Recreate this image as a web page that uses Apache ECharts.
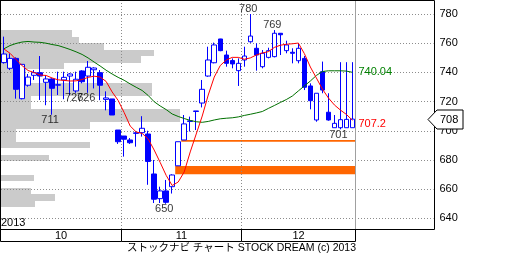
<!DOCTYPE html>
<html><head><meta charset="utf-8">
<script src="https://cdn.jsdelivr.net/npm/echarts@6/dist/echarts.min.js"></script>
<style>html,body{margin:0;padding:0;background:#fff}#c{width:512px;height:256px}</style>
</head><body><div id="c"></div>
<script>
// ---------------- data ----------------
const dates = [
 '2013-10-03','2013-10-04','2013-10-07','2013-10-08','2013-10-09','2013-10-10','2013-10-11','2013-10-15','2013-10-16','2013-10-17',
 '2013-10-18','2013-10-21','2013-10-22','2013-10-23','2013-10-24','2013-10-25','2013-10-28','2013-10-29','2013-10-30','2013-10-31',
 '2013-11-01','2013-11-05','2013-11-06','2013-11-07','2013-11-08','2013-11-11','2013-11-12','2013-11-13','2013-11-14','2013-11-15',
 '2013-11-18','2013-11-19','2013-11-20','2013-11-21','2013-11-22','2013-11-25','2013-11-26','2013-11-27','2013-11-28','2013-11-29',
 '2013-12-02','2013-12-03','2013-12-04','2013-12-05','2013-12-06','2013-12-09','2013-12-10','2013-12-11','2013-12-12','2013-12-13',
 '2013-12-16','2013-12-17','2013-12-18','2013-12-19','2013-12-20','2013-12-24','2013-12-25','2013-12-26','2013-12-27'
];
const openP = [746.7,742.8,749.6,722.0,731.2,738.0,739.8,733.2,735.5,731.2,
 734.8,737.5,727.3,741.0,737.5,741.8,739.8,721.5,721.8,700.5,
 696.4,693.7,698.2,698.7,697.8,670.4,653.5,658.8,661.7,676.0,
 693.7,706.4,713.2,719.0,737.5,746.6,762.9,751.9,748.1,741.2,
 748.5,761.0,756.5,743.9,750.3,750.8,766.8,754.9,753.8,748.0,
 749.6,730.7,707.4,740.5,712.7,702.1,702.1,702.1,702.1];
const closeP = [752.6,749.6,728.4,745.5,736.8,739.8,737.5,735.5,729.1,731.6,
 736.6,738.9,735.3,733.6,743.5,743.0,731.2,722.5,710.8,692.5,
 694.2,691.8,698.6,701.7,679.0,653.1,658.8,651.0,669.7,692.5,
 704.7,706.8,713.6,728.4,748.5,758.8,754.9,746.2,745.8,746.2,
 751.2,764.9,751.9,753.1,754.9,766.8,765.8,758.8,753.1,756.5,
 729.8,720.6,725.7,727.9,707.4,705.1,707.6,707.8,708.0];
const lowP = [746.0,741.6,722.0,721.5,730.2,734.8,721.1,717.5,711.0,724.5,
 721.6,724.5,726.0,732.5,726.0,729.0,721.0,714.0,710.8,691.0,
 682.3,691.0,689.1,696.0,663.0,650.5,650.5,650.0,657.0,675.9,
 693.7,699.5,700.5,716.0,737.0,746.2,754.5,743.9,742.8,730.7,
 743.9,760.3,741.2,742.8,749.6,750.3,751.9,753.1,746.2,746.2,
 727.9,714.7,706.2,725.7,706.9,702.1,701.0,702.1,702.1];
const highP = [764.5,753.0,750.3,745.8,738.9,741.6,751.2,738.0,736.0,740.5,
 740.5,739.5,740.5,741.5,747.8,743.5,741.6,727.0,721.8,700.5,
 696.4,695.0,699.5,710.0,700.0,680.0,661.7,666.3,670.2,692.5,
 710.8,709.7,713.6,734.8,757.6,760.4,763.0,754.9,749.6,749.6,
 757.6,780.0,759.9,755.3,756.9,769.0,767.0,761.7,756.5,760.0,
 751.2,732.5,725.7,747.4,725.7,710.8,747.0,747.0,747.0];
const ma5 = [756.0,753.1,748.8,744.7,741.3,739.9,738.2,737.9,736.2,734.9,
 734.5,734.1,734.2,735.1,736.6,737.4,736.8,733.8,726.6,720.8,
 712.5,703.3,699.2,698.2,694.4,686.8,678.3,669.4,662.5,664.9,
 671.8,685.5,697.8,710.1,724.5,736.8,744.7,748.5,750.3,750.3,
 749.0,749.9,751.9,753.3,754.2,757.1,758.6,759.3,759.6,760.1,
 752.9,743.7,736.2,728.6,722.5,717.7,714.2,711.2,707.2];
const ma25 = [756.2,758.4,759.8,760.8,761.2,760.8,760.6,760.0,759.1,758.4,
 757.1,755.7,754.1,752.3,749.9,747.1,744.4,741.5,738.9,736.6,
 734.6,732.1,729.8,727.6,724.2,719.9,717.0,714.5,711.5,709.8,
 708.4,707.1,706.2,705.8,706.4,707.4,708.2,708.6,708.9,709.5,
 710.5,711.3,712.2,713.2,715.3,717.3,719.4,721.4,723.8,727.3,
 730.7,734.1,737.9,740.6,741.1,741.1,741.1,740.9,740.04];
// volume-by-price profile (price buckets, relative volume)
const profileLow  = [647.5,652,656.5,661,665.5,670,674.5,679,683.5,688,692.5,697,701.5,706,710.5,715,719.5,724,728.5,733,737.5,742,746.5,751,755.5,760,764.5];
const profileHigh = [652,656.5,661,665.5,670,674.5,679,683.5,688,692.5,697,701.5,706,710.5,715,719.5,724,728.5,733,737.5,742,746.5,751,755.5,760,764.5,769];
const profileVol  = [34,54,30,0,33,0,0,48,0,89,15,15,89,179,179,30,30,151,151,25,25,63,140,153,103,78,71];
// price gaps (windows): first index after gap, gap low, gap high
const gapStart = [29, 30];
const gapLow   = [670.2, 692.5];
const gapHigh  = [675.9, 693.7];
// annotated highs / lows
const markIdx  = [41, 45, 8, 12, 14, 27, 56];
const markSide = ['high','high','low','low','low','low','low'];
const caption = 'ストックナビ チャート STOCK DREAM (c) 2013';

// ---------------- layout ----------------
const FONT = '"Liberation Sans", Arial, "Noto Sans CJK JP", sans-serif';
const NSLOT = 72;
const cats = dates.concat(Array.from({length: NSLOT - dates.length}, (_, i) => '_' + i));
const GRID = {left: 1, top: 0, width: 432.5, height: 229};
const lastIdx = dates.length - 1;

// month segments from dates
const monthStart = [], monthEnd = [], monthLabel = [];
dates.forEach((d, i) => {
  const m = String(parseInt(d.slice(5, 7), 10));
  if (!monthLabel.length || monthLabel[monthLabel.length - 1] !== m) {
    monthLabel.push(m); monthStart.push(i); monthEnd.push(i);
  } else monthEnd[monthEnd.length - 1] = i;
});

const chart = echarts.init(document.getElementById('c'), null, {renderer: 'canvas', width: 512, height: 256});

function renderProfile(params, api) {
  const p0 = api.coord([0, api.value(1)]);
  const p1 = api.coord([api.value(2), api.value(0)]);
  return {type: 'rect', shape: {x: p0[0], y: Math.round(p0[1]), width: p1[0] - p0[0], height: Math.round(p1[1]) - Math.round(p0[1])},
    style: {fill: '#cbcbcb'}};
}
function renderGap(params, api) {
  const bw = api.size([1, 0])[0];
  const a = api.coord([api.value(0), api.value(2)]);
  const b = api.coord([lastIdx, api.value(1)]);
  const x0 = a[0] - bw / 2, x1 = b[0] + bw / 2;
  return {type: 'rect', shape: {x: x0, y: a[1], width: x1 - x0, height: Math.max(1.5, b[1] - a[1])},
    style: {fill: '#ff6600'}};
}
function renderMonth(params, api) {
  const cs = params.coordSys;
  const bw = api.size([1, 0])[0];
  const i = params.dataIndex;
  const x0 = api.coord([api.value(0), 700])[0] - bw / 2;
  const x1 = api.coord([api.value(1), 700])[0] + bw / 2;
  const top = cs.y, bot = Math.round(cs.y + cs.height) + 0.5, boxB = bot + 12;
  const xr = Math.round(x1) + 0.5;
  const xl = i === 0 ? Math.floor(cs.x) - 0.5 : Math.round(x0) + 0.5;
  const last = i === monthLabel.length - 1;
  const ch = [];
  ch.push({type: 'line', shape: {x1: xl, y1: boxB, x2: xr, y2: boxB}, style: {stroke: '#000', lineWidth: 1}});
  ch.push({type: 'line', shape: {x1: xr, y1: bot, x2: xr, y2: boxB}, style: {stroke: '#000', lineWidth: 1}});
  if (i === 0) {
    ch.push({type: 'line', shape: {x1: xl, y1: top, x2: xl, y2: boxB}, style: {stroke: '#000', lineWidth: 1}});
    ch.push({type: 'text', x: cs.x, y: bot - 7, style: {text: dates[0].slice(0, 4), align: 'left', verticalAlign: 'middle',
      fill: '#000', fontSize: 11, fontFamily: FONT}});
  }
  if (last) {
    ch.push({type: 'line', shape: {x1: xr, y1: top, x2: xr, y2: bot - 0.5}, style: {stroke: '#a0a0a0', lineWidth: 1}});
    ch.push({type: 'text', x: xr + 0.5, y: boxB + 7, style: {text: caption, align: 'right', verticalAlign: 'middle',
      fill: '#000', fontSize: 10.5, fontFamily: FONT}});
  } else {
    ch.push({type: 'line', shape: {x1: xr, y1: top, x2: xr, y2: bot - 0.5}, style: {stroke: '#8c8c8c', lineWidth: 1, lineDash: [1, 2]}});
  }
  ch.push({type: 'text', x: (xl + xr) / 2, y: (bot + boxB) / 2 + 0.5, style: {text: monthLabel[i], align: 'center', verticalAlign: 'middle',
    fill: '#000', fontSize: 11, fontFamily: FONT}});
  return {type: 'group', children: ch};
}

const option = {
  animation: false,
  backgroundColor: '#fff',
  grid: [{left: GRID.left, top: GRID.top, width: GRID.width, height: GRID.height, show: false}],
  xAxis: [
    {type: 'category', gridIndex: 0, data: cats, boundaryGap: true,
      axisLine: {show: false}, axisTick: {show: false}, axisLabel: {show: false}, splitLine: {show: false}},
    {type: 'value', gridIndex: 0, min: 0, max: GRID.width, show: false}
  ],
  yAxis: [{type: 'value', gridIndex: 0, position: 'right', min: 632.7, max: 789.6,
    minInterval: 20, maxInterval: 20, splitNumber: 8,
    axisLine: {show: false}, axisTick: {show: false},
    axisLabel: {margin: 6, color: '#000', fontSize: 11, fontFamily: FONT,
      formatter: v => (Math.abs(v / 20 - Math.round(v / 20)) < 1e-6 ? String(Math.round(v)) : '')},
    splitLine: {show: true, lineStyle: {color: '#8c8c8c', type: [1, 2], width: 1}}}],
  series: [
    {type: 'custom', name: 'profile', xAxisIndex: 1, yAxisIndex: 0, z: -1, silent: true,
      data: profileLow.map((v, i) => [v, profileHigh[i], profileVol[i]]),
      encode: {x: 2, y: [0, 1]}, renderItem: renderProfile},
    {type: 'custom', name: 'gaps', xAxisIndex: 0, yAxisIndex: 0, silent: true,
      data: gapStart.map((v, i) => [v, gapLow[i], gapHigh[i]]),
      encode: {x: 0, y: [1, 2]}, renderItem: renderGap},
    {type: 'candlestick', name: 'price', xAxisIndex: 0, yAxisIndex: 0, barWidth: 5,
      data: dates.map((d, i) => [openP[i], closeP[i], lowP[i], highP[i]]),
      itemStyle: {color: '#ffffff', color0: '#0000ff', borderColor: '#0000ff', borderColor0: '#0000ff', borderColorDoji: '#0000ff', borderWidth: 1}},
    {type: 'line', name: 'ma25', data: ma25, symbol: 'none', lineStyle: {color: '#007000', width: 1},
      endLabel: {show: true, formatter: p => String(p.value), color: '#008000', fontSize: 11, fontFamily: FONT, distance: 6}},
    {type: 'line', name: 'ma5', data: ma5, symbol: 'none', lineStyle: {color: '#ff0000', width: 1},
      endLabel: {show: true, formatter: p => String(p.value), color: '#ff0000', fontSize: 11, fontFamily: FONT, distance: 6, offset: [0, 4]}},
    {type: 'scatter', name: 'marks', symbolSize: 0, silent: true,
      data: markIdx.map((ix, k) => {
        const hi = markSide[k] === 'high';
        const v = hi ? highP[ix] : lowP[ix];
        return {value: [ix, v, Math.round(v)], label: {position: hi ? 'top' : 'bottom'}};
      }),
      label: {show: true, distance: 0, offset: [-2, 0], formatter: p => String(p.value[2]), color: '#000', fontSize: 11, fontFamily: FONT}},
    {type: 'custom', name: 'months', xAxisIndex: 0, yAxisIndex: 0, silent: true, clip: false,
      data: monthStart.map((s, i) => [s, monthEnd[i]]),
      encode: {x: [0, 1]}, renderItem: renderMonth}
  ]
};
chart.setOption(option);

// frame and last-price callout (y position from the price scale)
const lastClose = closeP[lastIdx];
const yPx = Math.round(chart.convertToPixel({yAxisIndex: 0}, lastClose)) + 0.5;
const gridRight = GRID.left + GRID.width;
const tipX = gridRight - 5.5;
chart.setOption({graphic: [
  {type: 'rect', id: 'frame', z: 100, silent: true,
    shape: {x: 0.5, y: 0.5, width: Math.round(gridRight), height: GRID.height},
    style: {fill: 'none', stroke: '#000', lineWidth: 1}},
  {type: 'polygon', id: 'callout', z: 110, silent: true,
    shape: {points: [[tipX, yPx], [tipX + 9, yPx - 9.5], [tipX + 35, yPx - 9.5], [tipX + 35, yPx + 9.5], [tipX + 9, yPx + 9.5]]},
    style: {fill: '#fff', stroke: '#000', lineWidth: 1}},
  {type: 'text', id: 'calloutText', z: 111, silent: true, x: tipX + 12, y: yPx,
    style: {text: String(Math.round(lastClose)), align: 'left', verticalAlign: 'middle', fill: '#000', fontSize: 11, fontFamily: FONT}}
]});
</script></body></html>
